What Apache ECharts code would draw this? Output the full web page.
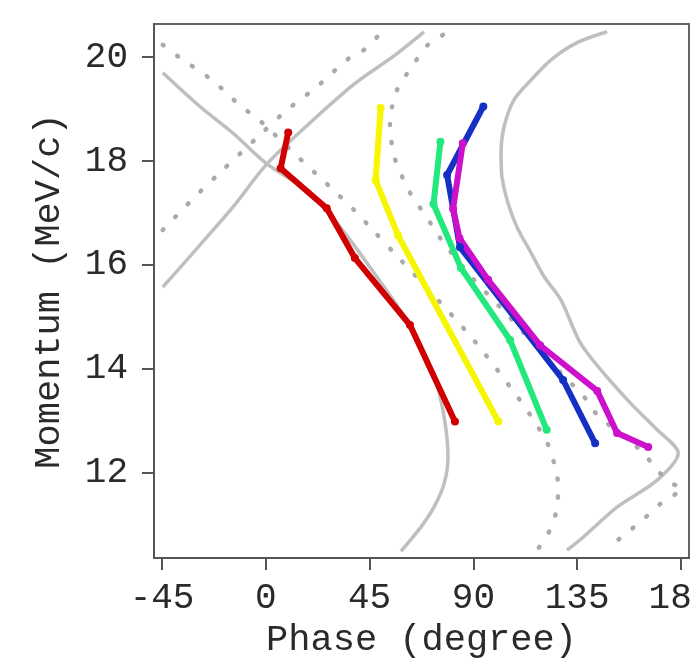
<!DOCTYPE html>
<html>
<head>
<meta charset="utf-8">
<script src="https://cdn.jsdelivr.net/npm/echarts@6/dist/echarts.min.js"></script>
<style>
html,body{margin:0;padding:0;background:#fff;}
#chart{width:694px;height:668px;}
</style>
</head>
<body>
<div id="chart"></div>
<script>
// Tick labels
const xTicks = [-45, 0, 45, 90, 135, 180];
const yTicks = [12, 14, 16, 18, 20];

// Measured tracks (phase in degree, momentum in MeV/c)
const redPhase = [9.7, 6.4, 26.4, 38.6, 62.5, 82.0];
const redMom   = [18.55, 17.86, 17.09, 16.13, 14.84, 12.98];

const yellowPhase = [49.8, 47.6, 57.3, 100.8];
const yellowMom   = [19.02, 17.63, 16.57, 12.98];

const greenPhase = [75.7, 72.7, 84.6, 105.9, 121.8];
const greenMom   = [18.37, 17.17, 15.94, 14.55, 12.82];

const bluePhase = [94.3, 78.6, 84.2, 128.9, 142.8];
const blueMom   = [19.05, 17.73, 16.34, 13.78, 12.56];

const magentaPhase = [85.4, 81.2, 84.0, 96.4, 118.9, 143.7, 152.3, 165.8];
const magentaMom   = [18.34, 17.08, 16.51, 15.71, 14.45, 13.57, 12.76, 12.49];

// Separatrix curves (solid gray)
const sepAPhase = [-44.7, -28.6, -14.3, 0, 14.8, 26.0, 36.5, 46.0, 61.6, 72.0, 76.8, 79.0, 77.3, 72.9, 67.3, 58.6];
const sepAMom   = [19.70, 19.05, 18.54, 17.96, 17.52, 17.06, 16.48, 15.90, 14.90, 13.97, 13.20, 12.30, 11.78, 11.33, 10.95, 10.48];

const sepBPhase = [-44.7, -28.6, -14.3, 0, 14.8, 35.2, 42.5, 55.1, 68.6];
const sepBMom   = [15.57, 16.38, 17.11, 17.92, 18.56, 19.37, 19.62, 20.01, 20.49];

const sepCPhase = [148.0, 135.0, 123.7, 115.0, 107.6, 103.3, 102.0, 102.4, 104.6, 108.9, 115.0, 120.7, 128.0, 136.3, 146.3, 158.0, 169.7, 178.8, 169.7, 152.3, 137.6, 130.6];
const sepCMom   = [20.49, 20.28, 19.95, 19.56, 19.18, 18.66, 18.16, 17.69, 17.25, 16.73, 16.23, 15.77, 15.32, 14.50, 13.92, 13.34, 12.82, 12.37, 11.85, 11.33, 10.75, 10.50];

// Separatrix curves (dotted gray)
const dot1Phase = [-44.7, -37.3, -23.4, -10.4, -3.9, 13.9, 26.9, 39.5, 45.1, 57.3, 74.7, 90.7, 105.9, 114.6, 122.0, 124.6, 126.3, 126.7, 126.3, 124.6, 122.0, 117.6];
const dot1Mom   = [20.24, 19.99, 19.56, 19.04, 18.83, 18.08, 17.54, 17.00, 16.73, 16.15, 15.32, 14.52, 13.65, 13.11, 12.57, 12.24, 11.95, 11.62, 11.33, 11.04, 10.79, 10.50];

const dot2Phase = [76.8, 70.3, 64.7, 60.3, 56.9, 54.7, 53.8, 54.3, 55.1, 57.3, 60.3, 63.8, 68.1, 72.5, 76.8, 88.5, 105.9, 123.3, 138.5, 143.7, 163.2, 168.8, 175.3, 180.6, 176.6, 170.1, 163.6, 156.7, 150.2];
const dot2Mom   = [20.43, 20.24, 19.91, 19.62, 19.37, 19.04, 18.75, 18.46, 18.16, 17.89, 17.58, 17.29, 17.02, 16.73, 16.44, 15.80, 14.98, 14.13, 13.43, 13.11, 12.40, 12.09, 11.80, 11.69, 11.55, 11.36, 11.09, 10.84, 10.61];

const dot3Phase = [-44.7, -32.1, -20.0, -2.6, 9.1, 22.1, 35.2, 42.5, 49.9];
const dot3Mom   = [16.67, 17.25, 17.77, 18.50, 18.98, 19.43, 19.95, 20.14, 20.47];

function pairs(xs, ys) { return xs.map((x, i) => [x, ys[i]]); }

const FONT = '"Liberation Mono", "Courier New", monospace';

function grayLine(xs, ys, dotted) {
  return {
    type: 'line', data: pairs(xs, ys), showSymbol: false, symbol: 'none',
    smooth: 0.3, clip: true, z: 1, silent: true,
    lineStyle: dotted
      ? { color: '#aaaaaa', width: 4.5, type: [1, 17], cap: 'round' }
      : { color: '#bfbfbf', width: 3.5 }
  };
}
function track(xs, ys, color) {
  return {
    type: 'line', data: pairs(xs, ys), symbol: 'circle', symbolSize: 8,
    showSymbol: true, clip: true, z: 3,
    itemStyle: { color: color }, lineStyle: { color: color, width: 6, join: 'round', cap: 'round' }
  };
}

const chart = echarts.init(document.getElementById('chart'), null, { renderer: 'canvas' });
chart.setOption({
  animation: false,
  backgroundColor: '#fff',
  grid: {
    left: 154, right: 5, top: 24, bottom: 110, containLabel: false, outerBoundsMode: 'none',
    show: true, borderColor: '#666', borderWidth: 2, backgroundColor: 'transparent'
  },
  xAxis: {
    type: 'value', min: -48.5, max: 183.5,
    name: 'Phase (degree)', nameLocation: 'middle', nameGap: 64,
    nameTextStyle: { fontFamily: FONT, fontSize: 37, color: '#2a2a2a' },
    axisLine: { show: true, onZero: false, lineStyle: { color: '#555', width: 2 } },
    axisTick: { show: true, inside: false, length: 12, customValues: xTicks, lineStyle: { color: '#555', width: 2 } },
    axisLabel: { customValues: xTicks, fontFamily: FONT, fontSize: 36, color: '#2a2a2a', margin: 22, hideOverlap: false },
    splitLine: { show: false }
  },
  yAxis: {
    type: 'value', min: 10.35, max: 20.64,
    name: 'Momentum (MeV/c)', nameLocation: 'middle', nameGap: 86,
    nameTextStyle: { fontFamily: FONT, fontSize: 37, color: '#2a2a2a' },
    axisLine: { show: true, onZero: false, lineStyle: { color: '#555', width: 2 } },
    axisTick: { show: true, inside: false, length: 12, customValues: yTicks, lineStyle: { color: '#555', width: 2 } },
    axisLabel: { customValues: yTicks, fontFamily: FONT, fontSize: 36, color: '#2a2a2a', margin: 26 },
    splitLine: { show: false }
  },
  series: [
    grayLine(sepAPhase, sepAMom, false),
    grayLine(sepBPhase, sepBMom, false),
    grayLine(sepCPhase, sepCMom, false),
    grayLine(dot1Phase, dot1Mom, true),
    grayLine(dot2Phase, dot2Mom, true),
    grayLine(dot3Phase, dot3Mom, true),
    track(redPhase, redMom, '#d00000'),
    track(yellowPhase, yellowMom, '#f6f600'),
    track(greenPhase, greenMom, '#22e87e'),
    track(bluePhase, blueMom, '#1530c4'),
    track(magentaPhase, magentaMom, '#cc10cc')
  ]
});
</script>
</body>
</html>
